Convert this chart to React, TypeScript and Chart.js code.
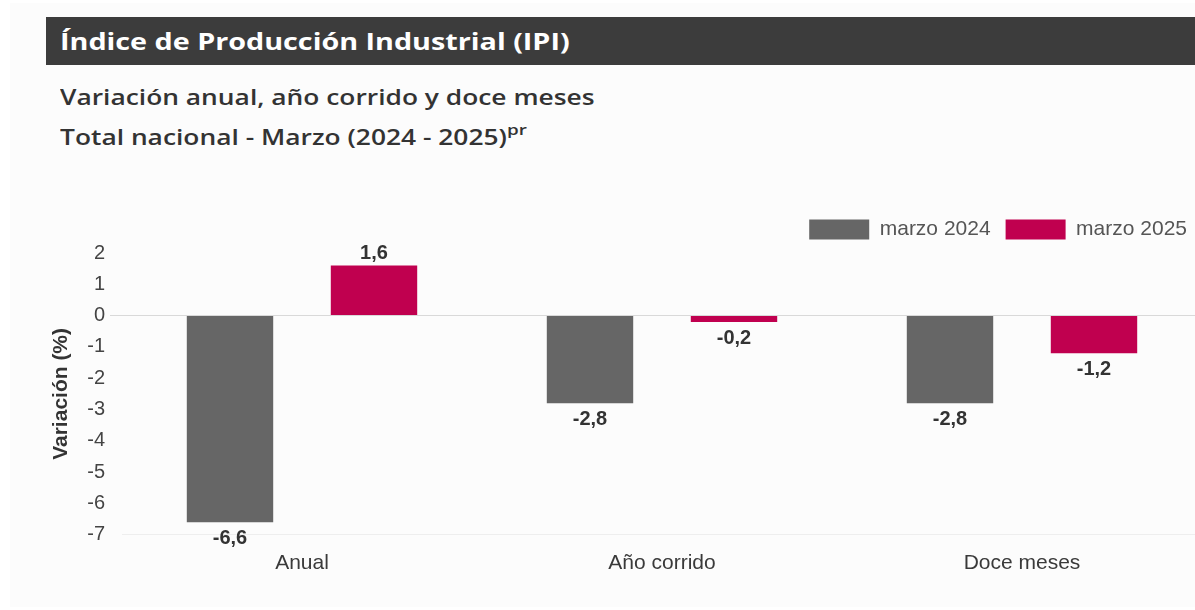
import React, { useEffect, useRef } from "react";
import { Chart, registerables } from "chart.js";

Chart.register(...registerables);

const categories = ["Anual", "Año corrido", "Doce meses"];
const marzo2024 = [-6.6, -2.8, -2.8];
const marzo2025 = [1.6, -0.2, -1.2];
const seriesNames = ["marzo 2024", "marzo 2025"];
const yTicksMin = -7;
const yTicksMax = 2;

const GRAY = "#666666";
const PINK = "#C0004F";
const FONT = "'Liberation Sans', Arial, sans-serif";
const CANVAS_TOP = 204;
const CANVAS_H = 388;
const PLOT_TOP = 253;

const valueLabels = {
  id: "valueLabels",
  afterDatasetsDraw(chart: any) {
    const ctx = chart.ctx;
    ctx.save();
    ctx.font = "bold 20px " + FONT;
    ctx.fillStyle = "#333333";
    ctx.textAlign = "center";
    ctx.textBaseline = "middle";
    chart.data.datasets.forEach((ds: any, di: number) => {
      const meta = chart.getDatasetMeta(di);
      meta.data.forEach((el: any, i: number) => {
        const v = ds.data[i] as number;
        const txt = v.toFixed(1).replace(".", ",");
        if (v >= 0) {
          ctx.fillText(txt, el.x, el.y - 12);
        } else {
          ctx.fillText(txt, el.x, el.y + 16.5);
        }
      });
    });
    ctx.restore();
  },
};

function IPIChart() {
  const ref = useRef<HTMLCanvasElement | null>(null);
  useEffect(() => {
    if (!ref.current) return;
    const chart: any = new Chart(ref.current, {
      type: "bar",
      data: {
        labels: categories,
        datasets: [
          { label: seriesNames[0], data: marzo2024, backgroundColor: GRAY, borderWidth: 0 },
          { label: seriesNames[1], data: marzo2025, backgroundColor: PINK, borderWidth: 0 },
        ],
      },
      options: {
        animation: false,
        responsive: false,
        maintainAspectRatio: false,
        layout: { padding: { left: 40, right: 0, top: 0, bottom: 0 } },
        datasets: { bar: { categoryPercentage: 0.8, barPercentage: 0.6 } },
        plugins: {
          legend: {
            display: true,
            position: "top",
            align: "end",
            labels: {
              boxWidth: 60,
              boxHeight: 20,
              padding: 15,
              color: "#555555",
              font: { family: FONT, size: 21 },
            },
          },
          tooltip: { enabled: false },
        },
        scales: {
          x: {
            grid: { display: false, drawTicks: false },
            border: { display: false },
            ticks: {
              padding: 16,
              color: "#3a3a3a",
              font: { family: FONT, size: 21 },
            },
          },
          y: {
            min: yTicksMin,
            max: yTicksMax,
            afterFit: (scale: any) => {
              scale.width = 82;
            },
            border: { display: false },
            grid: {
              drawTicks: true,
              tickLength: 12,
              color: (c: any) =>
                c.tick && c.tick.value === 0
                  ? "#d9d9d9"
                  : c.tick && c.tick.value === yTicksMin
                  ? "#eeeeee"
                  : "rgba(0,0,0,0)",
              tickColor: (c: any) => (c.tick && c.tick.value === 0 ? "#d9d9d9" : "rgba(0,0,0,0)"),
            },
            ticks: {
              stepSize: 1,
              padding: 5,
              color: "#444444",
              font: { family: FONT, size: 20 },
            },
            title: {
              display: true,
              text: "Variación (%)",
              color: "#333333",
              padding: { top: 9, bottom: 0 },
              font: { family: FONT, size: 21, weight: "bold" },
            },
          },
        },
      },
      plugins: [valueLabels],
    });
    // keep the legend block tall enough so the plot starts where the reference's does
    const legend = chart.legend;
    if (legend) {
      const origFit = legend.fit.bind(legend);
      legend.fit = function () {
        origFit();
        legend.height = PLOT_TOP - CANVAS_TOP;
      };
      chart.update();
    }
    return () => chart.destroy();
  }, []);
  return (
    <canvas
      ref={ref}
      width={1202}
      height={CANVAS_H}
      style={{ position: "absolute", left: 0, top: CANVAS_TOP, width: 1202, height: CANVAS_H }}
    />
  );
}

const headStyle: React.CSSProperties = {
  position: "absolute",
  left: 60,
  whiteSpace: "nowrap",
  transformOrigin: "0 50%",
  fontFamily: "'Open Sans', sans-serif",
};

export default function App() {
  return (
    <div
      style={{
        position: "fixed",
        left: 0,
        top: 0,
        width: 1195,
        height: 610,
        overflow: "hidden",
        background: "#ffffff",
      }}
    >
      <div style={{ position: "absolute", left: 10, top: 3, width: 1185, height: 604, background: "#fcfcfc" }} />
      <div
        style={{
          position: "absolute",
          left: 46,
          top: 17,
          width: 1149,
          height: 48,
          background: "#3c3c3c",
        }}
      />
      <div
        style={{
          ...headStyle,
          top: 17,
          height: 48,
          lineHeight: "48px",
          color: "#ffffff",
          fontWeight: 700,
          fontSize: 24,
          transform: "scaleX(1.197)",
        }}
      >
        Índice de Producción Industrial (IPI)
      </div>
      <div
        style={{
          ...headStyle,
          top: 84,
          lineHeight: "26px",
          color: "#333333",
          fontWeight: 600,
          fontSize: 21,
          transform: "scaleX(1.255)",
        }}
      >
        Variación anual, año corrido y doce meses
      </div>
      <div
        style={{
          ...headStyle,
          top: 124,
          lineHeight: "26px",
          color: "#333333",
          fontWeight: 600,
          fontSize: 21,
          transform: "scaleX(1.255)",
        }}
      >
        Total nacional - Marzo (2024 - 2025)
        <sup style={{ fontSize: 15, lineHeight: 0, position: "relative", top: -2 }}>pr</sup>
      </div>
      <IPIChart />
    </div>
  );
}
